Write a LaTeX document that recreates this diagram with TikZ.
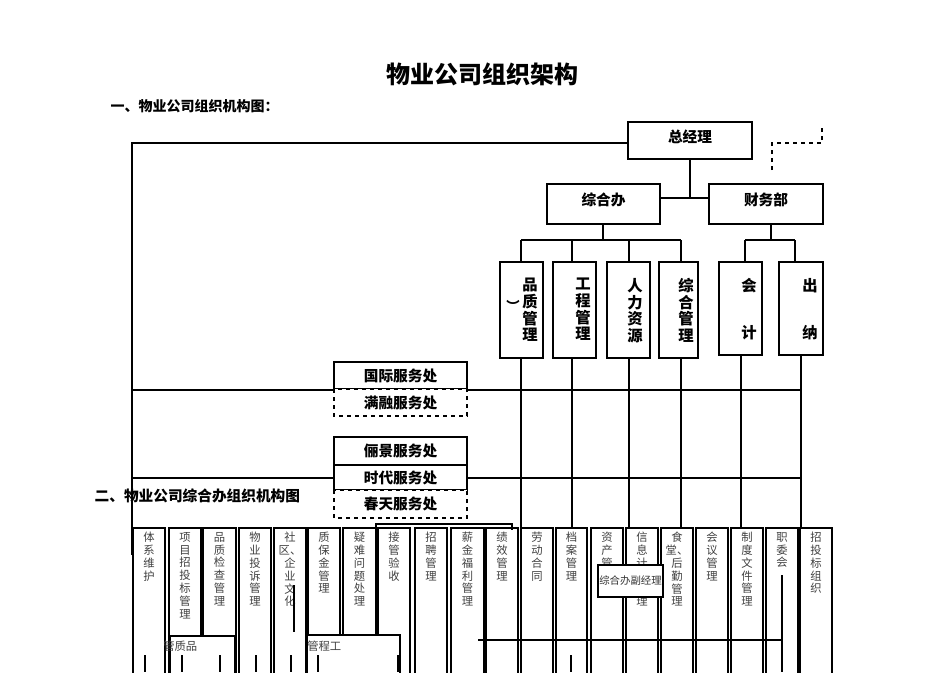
\documentclass[tikz,border=0pt]{standalone}
\usepackage{fontspec}
\setmainfont{Noto Sans CJK SC}
\begin{document}
\begin{tikzpicture}[x=0.75pt,y=-0.75pt,
  box/.style={draw,line width=1pt,inner sep=0pt},
  dbox/.style={draw,line width=1pt,dashed,inner sep=0pt},
  ln/.style={line width=1pt},
  vt/.style={font=\fontsize{8.5}{9.6}\selectfont,align=center,anchor=north,inner sep=0pt,text=black!75},
  vb/.style={font=\bfseries\fontsize{11.5}{12.5}\selectfont,align=center,anchor=north,inner sep=0pt}]
\useasboundingbox (0,0) rectangle (950,672);
\node[font=\bfseries\fontsize{18}{20}\selectfont] (title) at (482,74) {物业公司组织架构};
\node[font=\bfseries\fontsize{10.5}{12}\selectfont,anchor=west] (h1) at (106,106) {一、物业公司组织机构图：};
% top
\draw[box] (628,122) rectangle (752,159) node[pos=.5,yshift=3pt,font=\bfseries\fontsize{11}{13}\selectfont] (gm) {总经理};
\draw[dbox,line width=1.3pt] (772,170) -- (772,143) -- (822,143) -- (822,125);
\draw[box] (547,184) rectangle (660,224) node[pos=.5,yshift=3pt,font=\bfseries\fontsize{11}{13}\selectfont] (zhb) {综合办};
\draw[box] (709,184) rectangle (823,224) node[pos=.5,yshift=3pt,font=\bfseries\fontsize{11}{13}\selectfont] (cwb) {财务部};
\draw[ln] (690,159) -- (690,198); \draw[ln] (660,198) -- (709,198);
\draw[ln] (628,143) -- (132,143) -- (132,555);
\draw[ln] (603,224) -- (603,240); \draw[ln] (521,240) -- (681,240);
\foreach \x in {521,572,629,681} \draw[ln] (\x,240) -- (\x,262);
\draw[ln] (771,224) -- (771,240); \draw[ln] (745,240) -- (795,240);
\foreach \x in {745,795} \draw[ln] (\x,240) -- (\x,262);
\draw[box] (500,262) rectangle (543,358);
\node[vb] at (530,278) {品\\质\\管\\理}; \node[font=\bfseries] at (513,306) {︶};
\draw[box] (553,262) rectangle (596,358); \node[vb] at (583,278) {工\\程\\管\\理};
\draw[box] (607,262) rectangle (650,358); \node[vb] at (635,278) {人\\力\\资\\源};
\draw[box] (659,262) rectangle (698,358); \node[vb] at (686,278) {综\\合\\管\\理};
\draw[box] (719,262) rectangle (762,355); \node[vb] at (749,278) {会}; \node[vb] at (749,325) {计};
\draw[box] (779,262) rectangle (823,355); \node[vb] at (810,278) {出}; \node[vb] at (810,325) {纳};
\foreach \x/\y in {521/358,572/358,629/358,681/358,741/355,801/355} \draw[ln] (\x,\y) -- (\x,528);
\draw[ln] (132,390) -- (801,390); \draw[ln] (132,478) -- (801,478);
\tikzset{sb/.style={font=\bfseries\fontsize{11}{13}\selectfont}}
\draw[box,fill=white] (334,362) rectangle (467,389) node[pos=.5,sb] {国际服务处};
\draw[dbox,fill=white] (334,389) rectangle (467,416) node[pos=.5,sb] {满融服务处};
\draw[box,fill=white] (334,437) rectangle (467,465) node[pos=.5,sb] {俪景服务处};
\draw[box,fill=white] (334,465) rectangle (467,490) node[pos=.5,sb] {时代服务处};
\draw[dbox,fill=white] (334,490) rectangle (467,518) node[pos=.5,sb] {春天服务处};
\node[font=\bfseries\fontsize{11}{12}\selectfont,anchor=west] (h2) at (90,496) {二、物业公司综合办组织机构图};
\draw[ln] (376,530) -- (376,524) -- (512,524) -- (512,530);
% bottom columns
\foreach \a/\b/\t in {133/165/体\\系\\维\\护, 169/201/项\\目\\招\\投\\标\\管\\理, 203/236/品\\质\\检\\查\\管\\理,
  239/271/物\\业\\投\\诉\\管\\理, 274/306/社\\区、\\企\\业\\文\\化, 308/340/质\\保\\金\\管\\理, 343/376/疑\\难\\问\\题\\处\\理,
  378/410/接\\管\\验\\收, 415/447/招\\聘\\管\\理, 451/484/薪\\金\\福\\利\\管\\理, 486/518/绩\\效\\管\\理, 521/553/劳\\动\\合\\同,
  556/587/档\\案\\管\\理, 591/623/资\\产\\管\\理, 626/658/信\\息\\计\\算\\管\\理, 661/693/食\\堂、\\后\\勤\\管\\理,
  696/728/会\\议\\管\\理, 731/763/制\\度\\文\\件\\管\\理, 766/798/职\\委\\会, 800/832/招\\投\\标\\组\\织}
{ \draw[box] (\a,528) rectangle (\b,680); \node[vt] at ({(\a+\b)/2},532) {\t}; }
\draw[ln] (294,585) -- (294,632);
\draw[ln] (782,575) -- (782,672);
\draw[ln] (478,640) -- (782,640);
\draw[box,fill=white] (598,565) rectangle (663,597) node[pos=.5,font=\fontsize{7.8}{10}\selectfont,text=black!80] {综合办副经理};
\draw[box,fill=white] (170,636) rectangle (235,680);
\node[vt,anchor=west] at (163,646) {管质品};
\draw[box,fill=white] (307,635) rectangle (400,680);
\node[vt,anchor=west] at (307,646) {管程工};
\foreach \x in {145,182,220,256,291,318,398,571} \draw[ln] (\x,655) -- (\x,672);
\end{tikzpicture}
\end{document}
